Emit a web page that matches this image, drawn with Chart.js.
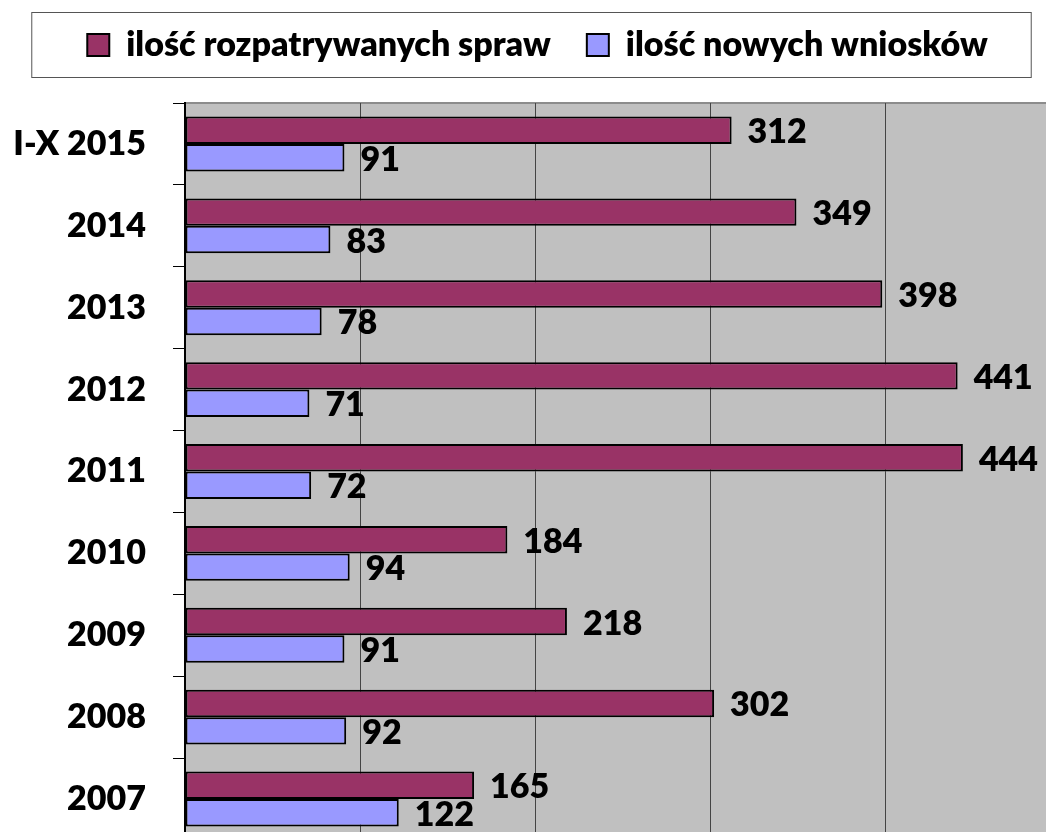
<!DOCTYPE html>
<html>
<head>
<meta charset="utf-8">
<title>ilość spraw</title>
<script src="https://cdn.jsdelivr.net/npm/chart.js@4.4.1/dist/chart.umd.min.js"></script>
<style>
  html, body { margin: 0; padding: 0; background: #fff; overflow: hidden; }
  #wrap { position: relative; width: 1075px; height: 845px; }
</style>
</head>
<body>
<div id="wrap"><canvas id="myChart"></canvas></div>
<script>
var years = ['I-X 2015', '2014', '2013', '2012', '2011', '2010', '2009', '2008', '2007'];
var sprawy = [312, 349, 398, 441, 444, 184, 218, 302, 165];
var wnioski = [91, 83, 78, 71, 72, 94, 91, 92, 122];
var seriesNames = ['ilość rozpatrywanych spraw', 'ilość nowych wniosków'];

var boldFont = 'Lato, "Open Sans", sans-serif';
var heavy = 800;

// gray plot area with a gray top edge
var plotBg = {
  id: 'plotBg',
  beforeDraw: function (chart) {
    var a = chart.chartArea, c = chart.ctx;
    c.save();
    c.fillStyle = '#c0c0c0';
    c.fillRect(a.left, a.top, a.right - a.left, a.bottom - a.top);
    c.strokeStyle = '#8c8c8c';
    c.lineWidth = 2;
    c.beginPath();
    c.moveTo(a.left, a.top);
    c.lineTo(a.right, a.top);
    c.stroke();
    c.restore();
  }
};

// value labels at the end of each bar
var barValues = {
  id: 'barValues',
  afterDatasetsDraw: function (chart) {
    var c = chart.ctx;
    c.save();
    c.font = heavy + ' 34px ' + boldFont;
    c.fillStyle = '#000';
    c.textBaseline = 'middle';
    c.textAlign = 'left';
    chart.data.datasets.forEach(function (ds, i) {
      chart.getDatasetMeta(i).data.forEach(function (bar, j) {
        c.fillText(String(ds.data[j]), bar.x + 16, bar.y + 2);
      });
    });
    c.restore();
  }
};

// legend: extra room below it and a frame around it
var legendBox = {
  id: 'legendBox',
  beforeInit: function (chart) {
    var fit = chart.legend.fit;
    chart.legend.fit = function () {
      fit.call(this);
      this.height += 31;
    };
  },
  afterDraw: function (chart) {
    var lg = chart.legend, c = chart.ctx;
    var hb = lg.legendHitBoxes;
    if (!hb || !hb.length) return;
    var first = hb[0], last = hb[hb.length - 1];
    var cy = first.top + first.height / 2;
    c.save();
    c.strokeStyle = '#555';
    c.lineWidth = 1;
    c.strokeRect(first.left - 55.5, cy - 32.5, (last.left + last.width) - first.left + 99, 65);
    c.restore();
  }
};

var ctx = document.getElementById('myChart').getContext('2d');
var myChart = new Chart(ctx, {
  type: 'bar',
  data: {
    labels: years,
    datasets: [{
      label: seriesNames[0],
      data: sprawy,
      backgroundColor: '#993366',
      borderColor: '#000',
      borderWidth: 2,
      borderSkipped: false
    }, {
      label: seriesNames[1],
      data: wnioski,
      backgroundColor: '#9999ff',
      borderColor: '#000',
      borderWidth: 2,
      borderSkipped: false
    }]
  },
  options: {
    indexAxis: 'y',
    responsive: true,
    maintainAspectRatio: false,
    animation: false,
    devicePixelRatio: 1,
    layout: { padding: { top: -8, right: 14, bottom: 5, left: 14 } },
    datasets: {
      bar: { categoryPercentage: 0.67, barPercentage: 1 }
    },
    plugins: {
      tooltip: { enabled: false },
      legend: {
        position: 'top',
        labels: {
          color: '#000',
          font: { family: boldFont, size: 34, weight: heavy },
          boxWidth: 22,
          boxHeight: 22,
          padding: 36
        }
      }
    },
    scales: {
      x: {
        min: 0,
        max: 500,
        ticks: { display: false, stepSize: 100 },
        grid: { color: '#444', lineWidth: 1, drawTicks: false },
        border: { display: false }
      },
      y: {
        afterFit: function (scale) {
          scale.width = 171;
          scale.paddingTop = 0;
          scale.paddingBottom = 0;
        },
        ticks: {
          color: '#000',
          padding: 27,
          font: { family: boldFont, size: 34, weight: heavy }
        },
        grid: { drawOnChartArea: false, color: '#000', tickLength: 12, offset: true },
        border: { color: '#000', width: 2 }
      }
    }
  },
  plugins: [plotBg, barValues, legendBox]
});
</script>
</body>
</html>
